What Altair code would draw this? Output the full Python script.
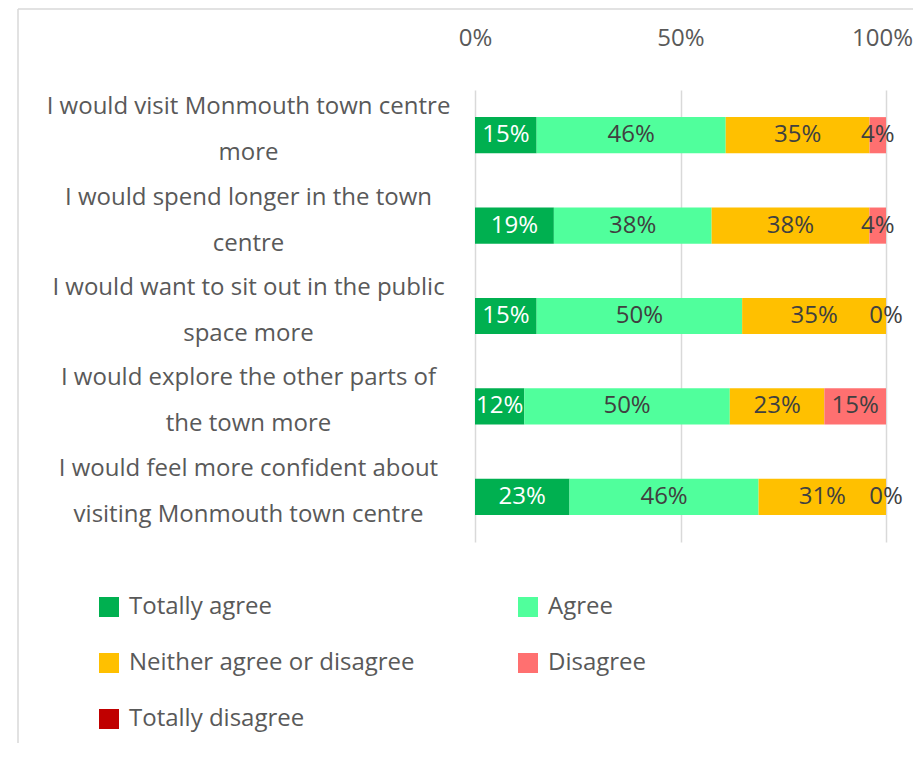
import altair as alt
import pandas as pd

statements = [
    "I would visit Monmouth town centre|more",
    "I would spend longer in the town|centre",
    "I would want to sit out in the public|space more",
    "I would explore the other parts of|the town more",
    "I would feel more confident about|visiting Monmouth town centre",
]
responses = ["Totally agree", "Agree", "Neither agree or disagree", "Disagree", "Totally disagree"]
totally_agree = [15, 19, 15, 12, 23]
agree = [46, 38, 50, 50, 46]
neither = [35, 38, 35, 23, 31]
disagree = [4, 4, 0, 15, 0]
totally_disagree = [0, 0, 0, 0, 0]
colors = ["#00B050", "#50FF9C", "#FFC000", "#FF7070", "#C00000"]

series = [totally_agree, agree, neither, disagree, totally_disagree]
rows = []
for ri, resp in enumerate(responses):
    for si, st in enumerate(statements):
        rows.append({"statement": st, "response": resp, "value": series[ri][si], "order": ri})
df = pd.DataFrame(rows)

FONT = "Open Sans"
TXT = "#595959"

base = alt.Chart(df).transform_stack(
    stack="value",
    groupby=["statement"],
    sort=[alt.SortField("order", order="ascending")],
    as_=["x0", "x1"],
    offset="normalize",
).transform_calculate(mid="(datum.x0 + datum.x1) / 2")

yenc = alt.Y(
    "statement:N",
    sort=statements,
    title=None,
    scale=alt.Scale(paddingInner=0.6, paddingOuter=0.3),
    axis=alt.Axis(
        labelExpr="split(datum.label, '|')",
        labelAlign="center",
        labelBaseline="middle",
        labelPadding=227,
        labelLineHeight=46,
        labelOffset=-28,
        labelFontSize=24,
        labelColor=TXT,
        labelLimit=600,
        ticks=False,
        tickSize=0,
        domain=False,
        grid=False,
    ),
)

bars = base.mark_bar().encode(
    x=alt.X(
        "x0:Q",
        scale=alt.Scale(domain=[0, 1], nice=False, zero=True),
        title=None,
        axis=alt.Axis(
            orient="top",
            values=[0, 0.5, 1],
            format=".0%",
            labelFontSize=24,
            labelColor=TXT,
            labelPadding=40,
            labelFlush=False,
            labelOffset={"condition": {"test": "datum.value == 1", "value": -4}, "value": 0},
            ticks=False,
            domain=False,
            grid=True,
            gridColor="#D9D9D9",
            gridWidth=1.5,
        ),
    ),
    x2="x1:Q",
    y=yenc,
    color=alt.Color(
        "response:N",
        scale=alt.Scale(domain=responses, range=colors),
        sort=responses,
        title=None,
        legend=alt.Legend(
            orient="none",
            legendX=-378,
            legendY=505,
            columns=2,
            direction="horizontal",
            columnPadding=101,
            rowPadding=32,
            symbolType="square",
            symbolSize=400,
            symbolStrokeWidth=0,
            symbolOpacity=1,
            labelOffset=8,
            labelFontSize=24,
            labelColor=TXT,
            labelLimit=600,
            padding=0,
        ),
    ),
    order=alt.Order("order:Q"),
)

labels = base.transform_filter(
    "datum.response != 'Totally disagree'"
).transform_calculate(lbl="datum.value + '%'").mark_text(
    fontSize=24, baseline="middle", align="center"
).encode(
    x=alt.X("mid:Q"),
    y=alt.Y("statement:N", sort=statements),
    text="lbl:N",
    color=alt.condition(
        "datum.response == 'Totally agree'", alt.value("white"), alt.value("#404040")
    ),
)

frame_df = pd.DataFrame({"k": [0]})
left_line = alt.Chart(frame_df).mark_rule(color="#D9D9D9", strokeWidth=1.5).encode(
    x=alt.value(-457), y=alt.value(-81), y2=alt.value(700)
)
top_line = alt.Chart(frame_df).mark_rule(color="#D9D9D9", strokeWidth=1.5).encode(
    x=alt.value(-457), x2=alt.value(500), y=alt.value(-81)
)

chart = alt.layer(bars, labels, left_line, top_line).properties(
    width=411,
    height=452,
    autosize=alt.AutoSizeParams(type="none"),
    padding={"left": 467, "top": 82, "right": 27, "bottom": 201},
).configure(font=FONT).configure_view(stroke=None)

chart.save("out.html", embed_options={"renderer": "svg", "actions": False})
